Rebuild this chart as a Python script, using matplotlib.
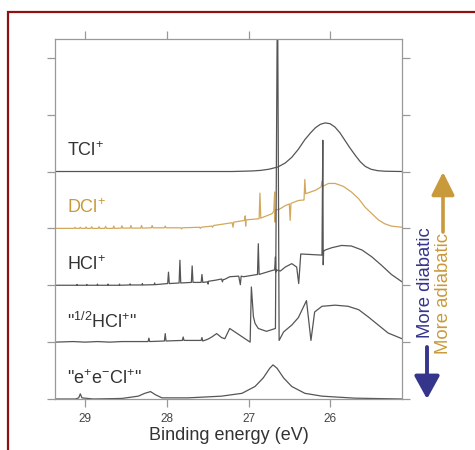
import numpy as np
import matplotlib.pyplot as plt
from matplotlib.patches import Rectangle

plt.rcParams['font.family'] = ['Liberation Sans', 'DejaVu Sans']
plt.rcParams['mathtext.fontset'] = 'custom'
plt.rcParams['mathtext.rm'] = 'Liberation Sans'
plt.rcParams['mathtext.it'] = 'Liberation Sans:italic'

# spectra: binding energy (eV) and intensity above each baseline
tcl_e = [29.37, 27.2, 26.95, 26.85, 26.75, 26.64, 26.55, 26.47, 26.39, 26.31, 26.24, 26.18,
         26.12, 26.06, 26.00, 25.94, 25.88, 25.82, 25.76, 25.69, 25.63, 25.57, 25.50, 25.42,
         25.33, 25.12]
tcl_i = [0.0, 0.0, 0.01, 0.02, 0.04, 0.08, 0.15, 0.25, 0.39, 0.56, 0.68, 0.77,
         0.83, 0.855, 0.84, 0.78, 0.68, 0.55, 0.42, 0.28, 0.17, 0.09, 0.04, 0.015,
         0.005, 0.0]

dcl_e = [29.37,
         29.135, 29.125, 29.115, 29.07, 29.06, 29.05, 29.0, 28.99, 28.98,
         28.93, 28.92, 28.91, 28.84, 28.83, 28.82, 28.76, 28.75, 28.74,
         28.66, 28.65, 28.64, 28.56, 28.55, 28.54, 28.45, 28.44, 28.43,
         28.32, 28.31, 28.30, 28.19, 28.18, 28.17, 28.03, 28.02, 28.01,
         27.83, 27.82, 27.81, 27.60, 27.59, 27.58, 27.45, 27.44, 27.43,
         27.29, 27.20, 27.19, 27.18,
         27.05, 27.04, 27.035, 27.03,
         26.87, 26.86, 26.85, 26.71,
         26.69, 26.68, 26.675, 26.67,
         26.63, 26.55, 26.50, 26.49, 26.48, 26.39,
         26.32, 26.31, 26.30, 26.18, 26.11, 26.10, 26.09,
         26.02, 25.94, 25.84, 25.74, 25.65, 25.57, 25.49, 25.41, 25.33, 25.25, 25.12]
dcl_i = [0.0,
         0.0, 0.02, 0.0, 0.0, 0.02, 0.0, 0.0, 0.025, 0.0,
         0.0, 0.03, 0.0, 0.0, 0.03, 0.0, 0.0, 0.035, 0.0,
         0.0, 0.04, 0.0, 0.005, 0.045, 0.005, 0.005, 0.05, 0.005,
         0.005, 0.05, 0.005, 0.01, 0.05, 0.01, 0.01, 0.04, 0.01,
         0.01, -0.01, 0.01, 0.02, 0.0, 0.02, 0.04, 0.02, 0.05,
         0.08, 0.10, 0.02, 0.11,
         0.14, 0.22, 0.04, 0.15,
         0.17, 0.62, 0.18, 0.26,
         0.30, 0.64, 0.11, 0.33,
         0.33, 0.40, 0.43, 0.14, 0.44, 0.49,
         0.50, 0.86, 0.61, 0.67, 0.73, 0.83, 0.74,
         0.79, 0.79, 0.74, 0.64, 0.52, 0.37, 0.26, 0.15, 0.08, 0.04, 0.02]

hcl_e = [29.37,
         29.105, 29.10, 29.095, 28.985, 28.98, 28.975, 28.855, 28.85, 28.845,
         28.725, 28.72, 28.715, 28.585, 28.58, 28.575, 28.455, 28.45, 28.445,
         28.305, 28.30, 28.295, 28.155, 28.15, 28.145,
         27.99, 27.98, 27.97, 27.85, 27.84, 27.83, 27.70, 27.69, 27.68,
         27.58, 27.57, 27.56, 27.50, 27.495, 27.49,
         27.40, 27.33, 27.32, 27.31, 27.29, 27.23, 27.12, 27.10, 27.09, 27.06,
         26.89, 26.88, 26.87, 26.71, 26.68, 26.67, 26.665, 26.66, 26.61,
         26.55, 26.47, 26.41, 26.385, 26.36, 26.23, 26.10, 26.09, 26.085, 26.08,
         26.06, 25.98, 25.86, 25.74, 25.61, 25.49, 25.37, 25.25, 25.12]
hcl_i = [0.0,
         0.0, 0.015, 0.0, 0.0, 0.015, 0.0, 0.0, 0.02, 0.0,
         0.0, 0.02, 0.0, 0.0, 0.02, 0.0, 0.005, 0.025, 0.005,
         0.005, 0.03, 0.005, 0.01, 0.04, 0.01,
         0.03, 0.23, 0.03, 0.04, 0.44, 0.04, 0.05, 0.34, 0.05,
         0.05, 0.19, 0.05, 0.06, 0.02, 0.07,
         0.09, 0.11, 0.06, 0.10, 0.105, 0.15, 0.16, 0.01, 0.16, 0.15,
         0.19, 0.73, 0.19, 0.26, 0.27, 0.50, 0.23, 0.27, 0.25,
         0.32, 0.38, 0.32, 0.03, 0.55, 0.54, 0.53, 2.55, 0.36, 0.60,
         0.62, 0.66, 0.70, 0.69, 0.62, 0.50, 0.35, 0.19, 0.06]

half_e = [29.37, 29.15, 29.0, 28.85, 28.70, 28.55, 28.40,
          28.23, 28.22, 28.21, 28.03, 28.02, 28.01, 27.81, 27.80, 27.79,
          27.58, 27.57, 27.56, 27.50, 27.45, 27.39, 27.33, 27.29, 27.23,
          26.98, 26.965, 26.94, 26.92, 26.88, 26.78, 26.67,
          26.645, 26.625, 26.57, 26.47, 26.39, 26.29, 26.235, 26.19,
          26.10, 25.94, 25.78, 25.65, 25.53, 25.41, 25.29, 25.12]
half_i = [0.0, 0.01, 0.0, 0.01, 0.0, 0.01, 0.01,
          0.01, 0.07, 0.01, 0.02, 0.15, 0.02, 0.03, 0.09, 0.03,
          0.03, 0.08, 0.02, 0.05, 0.09, 0.15, 0.08, 0.06, 0.24,
          0.0, 0.97, 0.45, 0.33, 0.24, 0.19, 0.24,
          6.5, 0.03, 0.18, 0.30, 0.43, 0.73, 0.03, 0.53,
          0.63, 0.65, 0.63, 0.57, 0.44, 0.30, 0.16, 0.06]

pos_e = [29.37, 29.12, 29.08, 29.06, 29.04, 28.9, 28.55, 28.35, 28.27, 28.20, 28.14,
         28.06, 27.74, 27.33, 27.08, 26.92, 26.82, 26.74, 26.70, 26.65, 26.57,
         26.47, 26.31, 26.10, 25.70, 25.12]
pos_i = [0.0, 0.0, 0.02, 0.09, 0.02, 0.0, 0.01, 0.05, 0.10, 0.13, 0.075,
         0.02, 0.02, 0.05, 0.10, 0.22, 0.37, 0.54, 0.60, 0.54, 0.37,
         0.22, 0.10, 0.05, 0.015, 0.0]

labels = ['TCl$^{+}$', 'DCl$^{+}$', 'HCl$^{+}$', '"$^{1/2}$HCl$^{+}$"', '"e$^{+}$e$^{-}$Cl$^{+}$"']
offsets = [4, 3, 2, 1, 0]
x_ticks = [29, 28, 27, 26]

gold = '#c99a3c'
blue = '#35358c'
grey = '#555555'
colors = [grey, '#d2a85c', grey, grey, grey]
text_colors = ['#333333', gold, '#333333', '#333333', '#333333']

fig = plt.figure(figsize=(4.75, 4.5), dpi=100)
ax = fig.add_axes([55 / 475, 1 - 399 / 450, 347 / 475, 360 / 450])

traces = [(tcl_e, tcl_i), (dcl_e, dcl_i), (hcl_e, hcl_i), (half_e, half_i), (pos_e, pos_i)]
for (e, i), off, lab, c, tc in zip(traces, offsets, labels, colors, text_colors):
    ax.plot(e, np.array(i) + off, color=c, lw=0.9)
    ax.text(29.22, off + 0.36, lab, color=tc, fontsize=13, va='center', ha='left')

ax.set_xlim(29.37, 25.12)
ax.set_ylim(0, 6.33)
ax.set_xticks(x_ticks)
ax.set_yticks(range(7))
ax.tick_params(axis='both', direction='out', top=True, right=True, labelleft=False,
               length=5.8, width=0.9, color='#999999', labelsize=8.5, labelcolor='#444444', pad=4.5)
for s in ax.spines.values():
    s.set_color('#999999')
    s.set_linewidth(0.9)
ax.set_xlabel('Binding energy (eV)', fontsize=13, color='#333333', labelpad=1.5)

# arrows and side labels
ax.annotate('', xy=(443, 278), xytext=(443, 218), xycoords='figure pixels',
            arrowprops=dict(arrowstyle='-|>,head_length=1.0,head_width=0.5', mutation_scale=14,
                            lw=2.6, color=gold, shrinkA=0, shrinkB=0))
ax.annotate('', xy=(427, 51), xytext=(427, 103), xycoords='figure pixels',
            arrowprops=dict(arrowstyle='-|>,head_length=1.0,head_width=0.55', mutation_scale=14,
                            lw=2.8, color=blue, shrinkA=0, shrinkB=0))
fig.text(425 / 475, 167 / 450, 'More diabatic', rotation=90, color=blue, fontsize=13.3,
         ha='center', va='center')
fig.text(443 / 475, 157 / 450, 'More adiabatic', rotation=90, color=gold, fontsize=13.3,
         ha='center', va='center')

# dark red frame of the figure panel
fig.patches.append(Rectangle((8 / 475, -0.2), 1.2, 1.2 - 12 / 450, transform=fig.transFigure,
                             fill=False, edgecolor='#8e1212', lw=1.6, figure=fig))

fig.savefig('out.png', dpi=100)
